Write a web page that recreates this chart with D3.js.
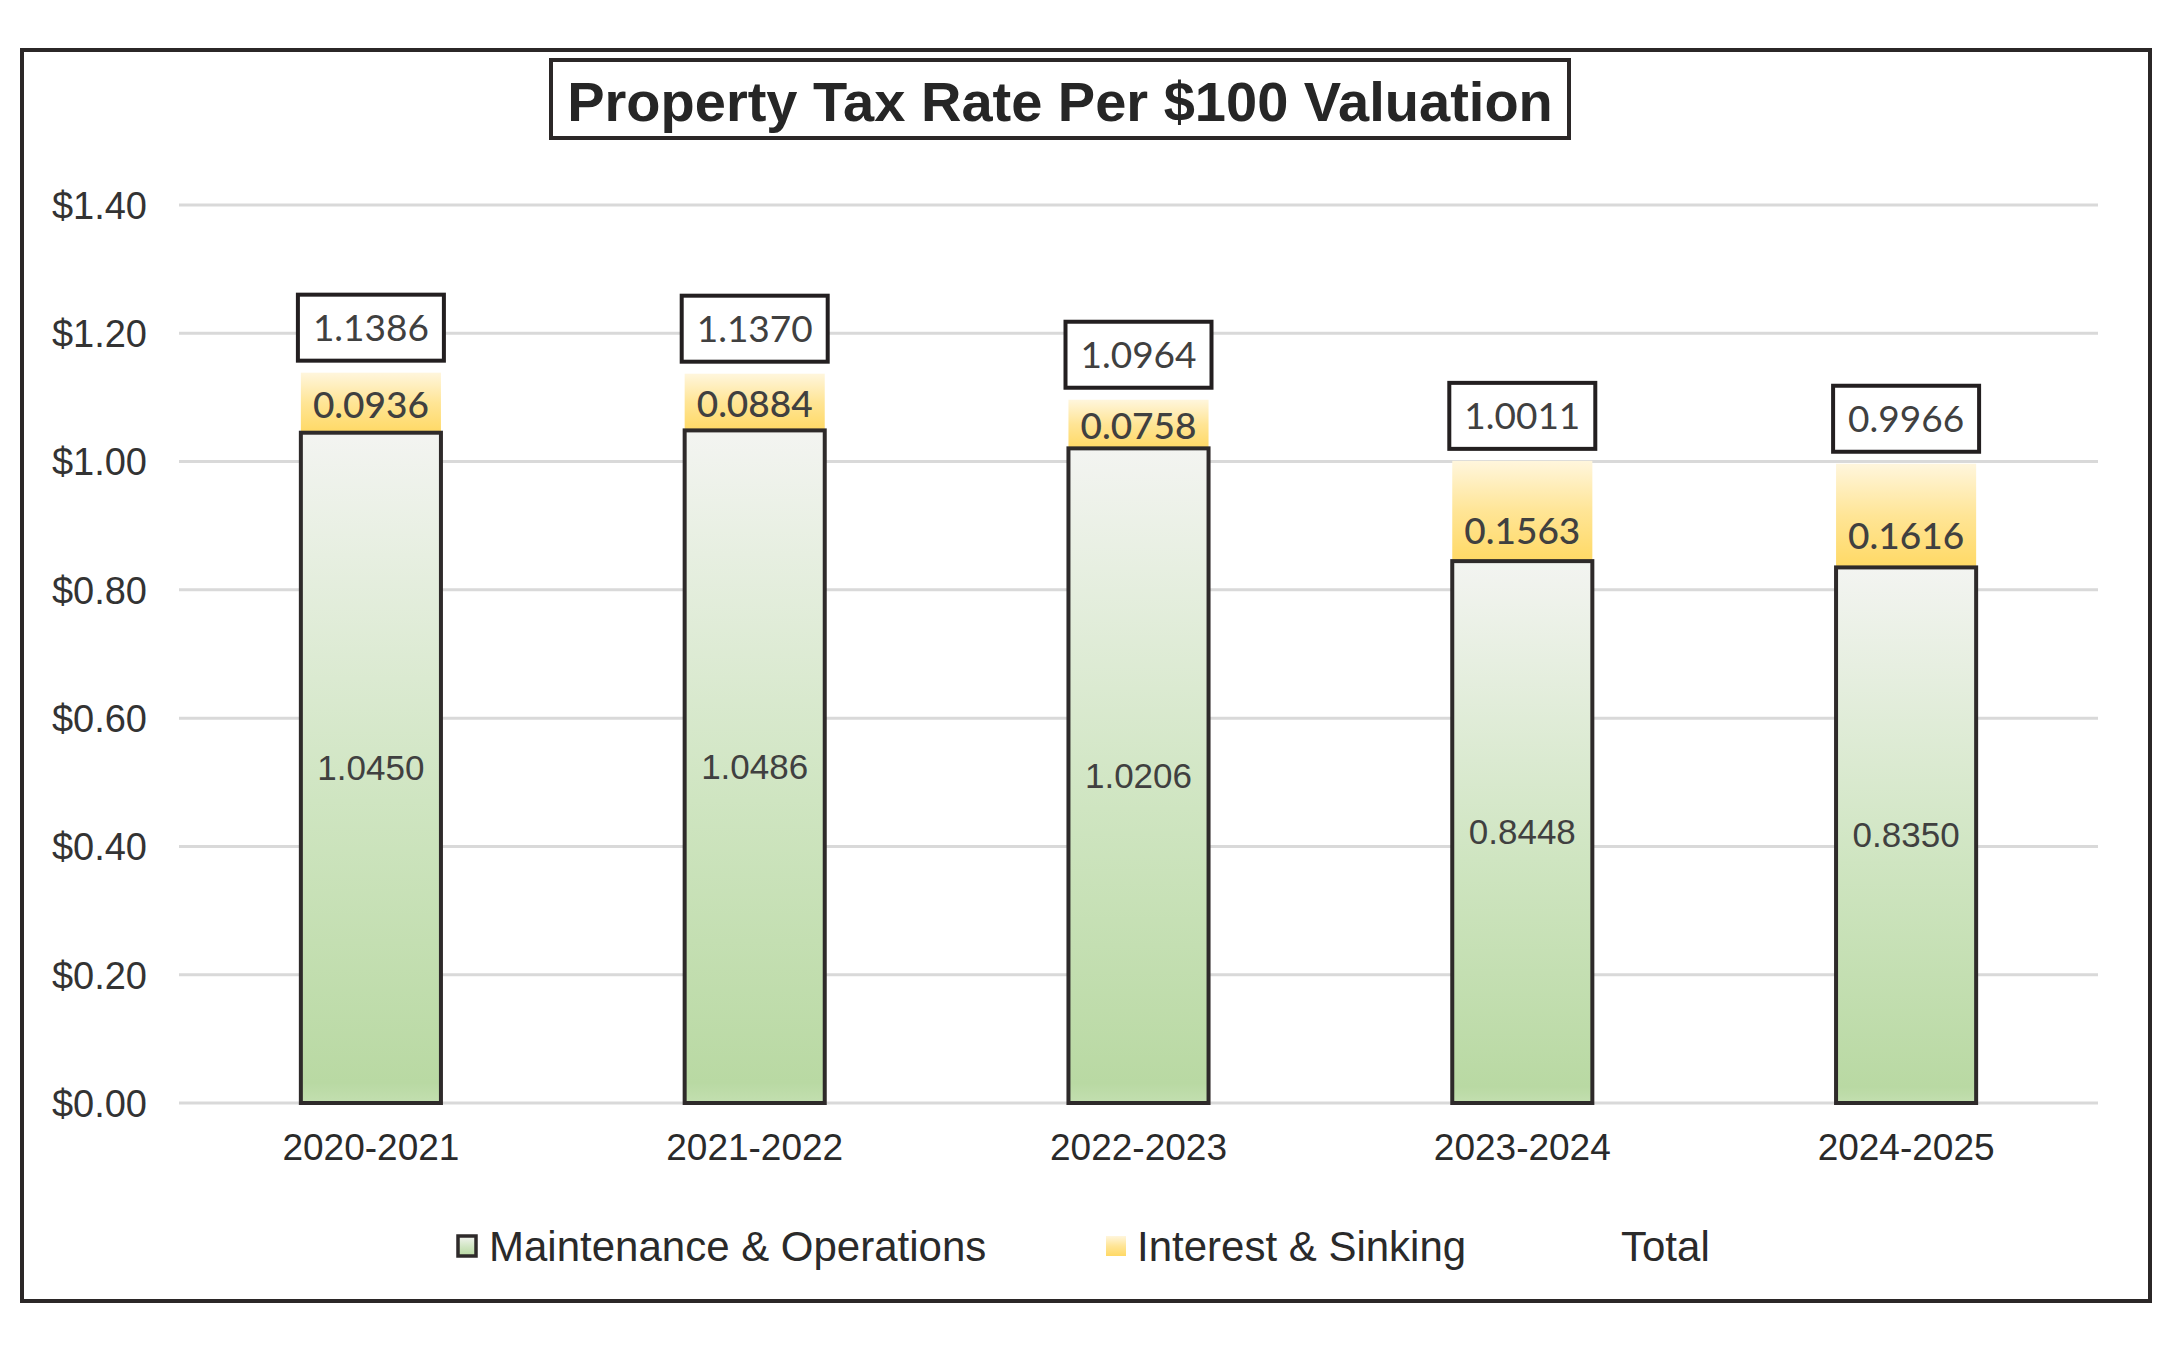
<!DOCTYPE html>
<html><head><meta charset="utf-8">
<script src="https://cdn.jsdelivr.net/npm/d3@7"></script>
<style>body{margin:0;background:#fff}svg{display:block}</style>
</head><body>
<script>
const categories = ["2020-2021","2021-2022","2022-2023","2023-2024","2024-2025"];
const moValues = [1.0450, 1.0486, 1.0206, 0.8448, 0.8350];
const isValues = [0.0936, 0.0884, 0.0758, 0.1563, 0.1616];
const totalValues = [1.1386, 1.1370, 1.0964, 1.0011, 0.9966];
const yTicks = [0, 0.2, 0.4, 0.6, 0.8, 1.0, 1.2, 1.4];
const seriesNames = ["Maintenance & Operations", "Interest & Sinking", "Total"];
const titleText = "Property Tax Rate Per $100 Valuation";

const W = 2159, H = 1350;
const svg = d3.select("body").append("svg").attr("width", W).attr("height", H);
const defs = svg.append("defs");
const gG = defs.append("linearGradient").attr("id","gGreen").attr("x1",0).attr("y1",1).attr("x2",0).attr("y2",0);
gG.append("stop").attr("offset","0").attr("stop-color","#c3dfb0");
gG.append("stop").attr("offset","0.03").attr("stop-color","#b9d9a3");
gG.append("stop").attr("offset","0.45").attr("stop-color","#cfe5c1");
gG.append("stop").attr("offset","1").attr("stop-color","#f3f4f1");
const gY = defs.append("linearGradient").attr("id","gYellow").attr("x1",0).attr("y1",1).attr("x2",0).attr("y2",0);
gY.append("stop").attr("offset","0").attr("stop-color","#ffd965");
gY.append("stop").attr("offset","0.5").attr("stop-color","#ffe596");
gY.append("stop").attr("offset","1").attr("stop-color","#fff6dd");

// outer border
svg.append("rect").attr("x",22).attr("y",50).attr("width",2128).attr("height",1251)
  .attr("fill","#fff").attr("stroke","#2b2727").attr("stroke-width",4);

const x = d3.scaleBand().domain(categories).range([179, 2098]).paddingInner(0.635).paddingOuter(0.3175);
const y = d3.scaleLinear().domain([0, 1.4]).range([1103, 205]);

// gridlines
svg.append("g").selectAll("line").data(yTicks).join("line")
  .attr("x1",179).attr("x2",2098).attr("y1",d=>y(d)).attr("y2",d=>y(d))
  .attr("stroke","#d9d9d9").attr("stroke-width",3);

// y axis
const yAxis = d3.axisLeft(y).tickValues(yTicks).tickSize(0).tickPadding(0).tickFormat(d=>"$"+d.toFixed(2));
const ya = svg.append("g").attr("transform","translate(147,0)").call(yAxis);
ya.select(".domain").remove();
ya.selectAll("text").attr("font-family","Liberation Sans, Arial, sans-serif").attr("font-size",38).attr("fill","#333").attr("dy","0.35em");

// x axis
const xAxis = d3.axisBottom(x).tickSize(0).tickPadding(0);
const xa = svg.append("g").attr("transform","translate(0,1147)").call(xAxis);
xa.select(".domain").remove();
xa.selectAll("text").attr("font-family","Liberation Sans, Arial, sans-serif").attr("font-size",37).attr("fill","#2a2a2a").attr("dy","0.35em");

const data = categories.map((c,i)=>({c, mo:moValues[i], is:isValues[i], tot:totalValues[i]}));

// I&S segment
svg.append("g").selectAll("rect").data(data).join("rect")
  .attr("x",d=>x(d.c)).attr("width",x.bandwidth())
  .attr("y",d=>y(d.mo+d.is)).attr("height",d=>y(d.mo)-y(d.mo+d.is))
  .attr("fill","url(#gYellow)");

// M&O segment
svg.append("g").selectAll("rect").data(data).join("rect")
  .attr("x",d=>x(d.c)).attr("width",x.bandwidth())
  .attr("y",d=>y(d.mo)).attr("height",d=>y(0)-y(d.mo))
  .attr("fill","url(#gGreen)").attr("stroke","#2e2a2a").attr("stroke-width",4);

// M&O labels
svg.append("g").selectAll("text").data(data).join("text")
  .attr("x",d=>x(d.c)+x.bandwidth()/2).attr("y",d=>(y(d.mo)+y(0))/2)
  .attr("text-anchor","middle").attr("dy","0.35em")
  .attr("font-family","Liberation Sans, Arial, sans-serif").attr("font-size",35).attr("fill","#404040")
  .text(d=>d.mo.toFixed(4));

// I&S labels
svg.append("g").selectAll("text").data(data).join("text")
  .attr("x",d=>x(d.c)+x.bandwidth()/2).attr("y",d=>(y(d.mo)+y(d.mo+d.is))/2 + (d.is>0.12?20:2))
  .attr("text-anchor","middle").attr("dy","0.36em")
  .attr("font-family","Lato, Noto Sans, sans-serif").attr("font-size",37).attr("font-weight",500).attr("fill","#404040")
  .text(d=>d.is.toFixed(4));

// Total boxed labels
const tg = svg.append("g").selectAll("g").data(data).join("g")
  .attr("transform",d=>`translate(${x(d.c)+x.bandwidth()/2},${y(d.tot)-11-34})`);
tg.append("rect").attr("x",-73).attr("y",-33).attr("width",146).attr("height",66)
  .attr("fill","#fff").attr("stroke","#231f20").attr("stroke-width",4);
tg.append("text").attr("text-anchor","middle").attr("dy","0.36em")
  .attr("font-family","Lato, Noto Sans, sans-serif").attr("font-size",37).attr("fill","#404040")
  .text(d=>d.tot.toFixed(4));

// Title
const tt = svg.append("g");
tt.append("rect").attr("x",551).attr("y",60).attr("width",1018).attr("height",78)
  .attr("fill","#fff").attr("stroke","#2b2727").attr("stroke-width",4);
tt.append("text").attr("x",1060).attr("y",101).attr("text-anchor","middle").attr("dy","0.36em")
  .attr("font-family","Liberation Sans, Arial, sans-serif").attr("font-weight","bold").attr("font-size",56)
  .attr("fill","#262626").text(titleText);

// Legend
const lg = svg.append("g").attr("font-family","Liberation Sans, Arial, sans-serif").attr("font-size",42).attr("fill","#2a2a2a");
lg.append("rect").attr("x",458).attr("y",1236).attr("width",18).attr("height",20)
  .attr("fill","url(#gGreen)").attr("stroke","#2e2a2a").attr("stroke-width",3.5);
lg.append("text").attr("x",489).attr("y",1246).attr("dy","0.35em").text(seriesNames[0]);
lg.append("rect").attr("x",1106).attr("y",1236).attr("width",20).attr("height",20).attr("fill","url(#gYellow)");
lg.append("text").attr("x",1137).attr("y",1246).attr("dy","0.35em").text(seriesNames[1]);
lg.append("text").attr("x",1621).attr("y",1246).attr("dy","0.35em").text(seriesNames[2]);
</script>
</body></html>
